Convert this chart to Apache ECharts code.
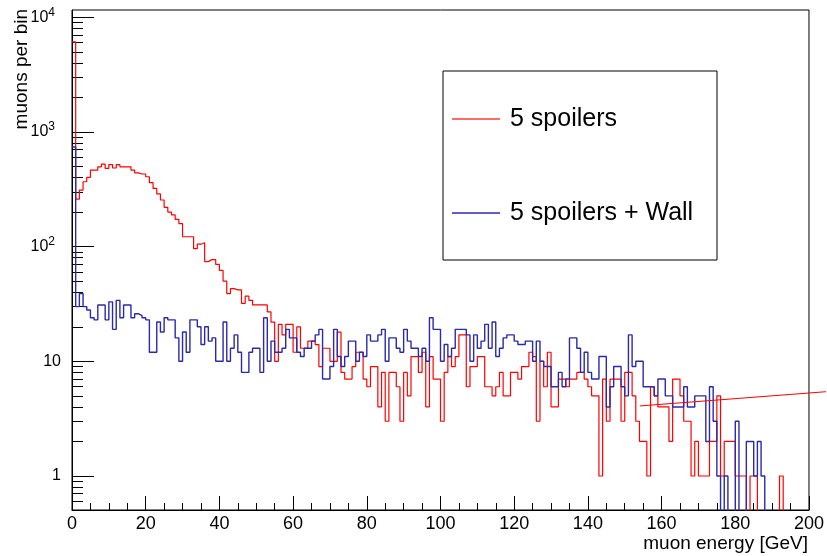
<!DOCTYPE html>
<html><head><meta charset="utf-8">
<script src="https://cdn.jsdelivr.net/npm/echarts@6/dist/echarts.min.js"></script>
<style>html,body{margin:0;padding:0;background:#fff}#c{width:827px;height:556px}</style>
</head><body><div id="c"></div>
<script>
// ---------- data ----------
const seriesNames = ['5 spoilers', '5 spoilers + Wall'];
const xTitle = 'muon energy [GeV]';
const yTitle = 'muons per bin';
const xMin = 0, xMax = 200, xTickStep = 20;
const yMin = 0.505, yMax = 11578;
const yTickValues = [1, 10, 100, 1000, 10000];
const yMinorTickValues = [0.6, 0.7, 0.8, 0.9, 2, 3, 4, 5, 6, 7, 8, 9, 20, 30, 40, 50, 60, 70, 80, 90,
  200, 300, 400, 500, 600, 700, 800, 900, 2000, 3000, 4000, 5000, 6000, 7000, 8000, 9000];
// bin contents, 1 GeV bins starting at 0 GeV
const spoilers = [
  6100, 260, 311, 368, 402, 465, 465, 497, 525, 482, 520, 485, 520, 497, 497, 497, 465, 440, 430, 430,
  407, 361, 322, 288, 255, 220, 200, 189, 173, 159, 122, 122, 122, 96, 105, 108, 74, 77, 77, 70,
  62, 50, 39, 43, 42, 42, 32, 37, 34, 31, 31, 31, 31, 27, 22, 10, 21, 17, 21, 21,
  12, 20, 13, 13, 15, 15, 14, 9, 13, 13, 10, 10, 18, 8, 7, 7, 9, 12, 12, 7,
  6, 9, 9, 4, 8, 3, 8, 8, 6, 3, 8, 5, 11, 11, 8, 12, 4, 11, 7, 7,
  3, 8, 11, 9, 11, 17, 17, 6, 9, 9, 11, 11, 6, 6, 5, 6, 8, 5, 5, 8,
  8, 7, 9, 9, 12, 11, 3, 10, 6, 12, 4, 4, 7, 7, 6, 7, 7, 8, 8, 7,
  6, 5, 5, 1, 7, 3, 7, 7, 7, 3, 8, 8, 5, 3, 2, 2, 1, 6, 5, 4,
  4, 4, 2, 7, 7, 5, 3, 3, 1, 2, 1, 1, 1, 2, 2, 5, 1, 2, 2, 2,
  1, 1, 1, 0, 1, 1, 0, 0, 0, 0, 0, 0, 1, 0, 0, 0, 0, 0, 0, 0
];
const spoilersWall = [
  740, 30, 39, 30, 28, 24, 23, 31, 31, 23, 33, 19, 34, 24, 31, 31, 24, 26, 25, 24,
  23, 12, 12, 22, 18, 24, 23, 23, 16, 10, 18, 12, 23, 23, 20, 14, 20, 15, 16, 10,
  10, 22, 10, 13, 17, 12, 8, 8, 12, 13, 13, 8, 24, 10, 15, 12, 12, 13, 19, 16,
  16, 12, 11, 13, 13, 15, 17, 19, 7, 7, 9, 19, 11, 9, 11, 15, 15, 10, 12, 11,
  17, 15, 15, 17, 19, 10, 16, 16, 13, 12, 19, 15, 13, 13, 11, 13, 10, 24, 19, 19,
  10, 14, 11, 13, 19, 19, 19, 17, 10, 17, 13, 15, 21, 13, 22, 11, 13, 16, 17, 17,
  15, 14, 14, 15, 15, 10, 15, 10, 9, 9, 6, 6, 8, 6, 7, 16, 16, 13, 8, 12,
  8, 7, 7, 11, 11, 4, 6, 9, 9, 6, 5, 17, 9, 10, 10, 6, 6, 6, 5, 7,
  7, 5, 5, 4, 4, 4, 6, 4, 4, 5, 5, 5, 2, 6, 3, 1, 0, 1, 0, 0,
  3, 0, 0, 2, 2, 1, 2, 1, 0, 0, 0, 0, 0, 0, 0, 0, 0, 0, 0, 0
];
// stray straight line drawn in the original (data coordinates)
const strayLineX = [154.1, 204.6];
const strayLineY = [4.08, 5.43];

// ---------- build ----------
const FONT = 'Liberation Sans, Arial, Helvetica, sans-serif';
const FLOOR = 0.1; // empty bins are drawn down to below the frame
function histPoints(vals) {
  const pts = vals.map((v, i) => [xMin + i, v > 0 ? v : FLOOR]);
  const last = vals[vals.length - 1];
  pts.push([xMin + vals.length, last > 0 ? last : FLOOR]);
  return pts;
}

const chart = echarts.init(document.getElementById('c'), null, {renderer: 'canvas'});
chart.setOption({
  animation: false,
  backgroundColor: '#fff',
  grid: {left: 72, right: 17, top: 10, bottom: 46, show: true, borderColor: '#000', borderWidth: 1, backgroundColor: 'transparent'},
  xAxis: {
    type: 'value', min: xMin, max: xMax, interval: xTickStep,
    axisLine: {show: true, onZero: false, lineStyle: {color: '#000', width: 1}},
    axisTick: {show: true, inside: true, length: 14, lineStyle: {color: '#000'}},
    minorTick: {show: true, splitNumber: 4, length: 7, lineStyle: {color: '#000'}},
    axisLabel: {color: '#000', fontSize: 18, fontFamily: FONT, margin: 5, showMinLabel: true, showMaxLabel: true},
    splitLine: {show: false}
  },
  yAxis: [{
    type: 'log', logBase: 10, min: yMin, max: yMax,
    axisLine: {show: true, onZero: false, lineStyle: {color: '#000', width: 1}},
    axisTick: {show: true, inside: true, length: 22, customValues: yTickValues, lineStyle: {color: '#000'}},
    axisLabel: {
      customValues: yTickValues, color: '#000', margin: 11, fontFamily: FONT,
      formatter: function (v) {
        const e = Math.round(Math.log10(v));
        if (e === 0) return '{n|1}';
        if (e === 1) return '{n|10}';
        return '{n|10}{s|' + e + '}';
      },
      rich: {
        n: {fontSize: 16, lineHeight: 22, fontFamily: FONT, color: '#000'},
        s: {fontSize: 12, lineHeight: 12, verticalAlign: 'top', fontFamily: FONT, color: '#000', padding: [0, 6, 0, 0]}
      }
    },
    splitLine: {show: false}
  }, {
    type: 'log', logBase: 10, min: yMin, max: yMax, position: 'left',
    axisLine: {show: false},
    axisTick: {show: true, inside: true, length: 11, customValues: yMinorTickValues, lineStyle: {color: '#000'}},
    axisLabel: {show: false},
    splitLine: {show: false}
  }],
  legend: {
    left: 443, top: 71, orient: 'vertical',
    itemWidth: 48, itemHeight: 2, icon: 'rect', itemGap: 66,
    padding: [34, 13, 33, 9],
    borderColor: '#000', borderWidth: 1, backgroundColor: '#fff',
    textStyle: {fontSize: 25, fontFamily: FONT, color: '#000', width: 194, lineHeight: 28, padding: [0, 0, 0, 5]},
    data: [
      {name: seriesNames[0], itemStyle: {color: '#ff6b6b'}},
      {name: seriesNames[1], itemStyle: {color: '#6060c0'}}
    ]
  },
  graphic: [
    {type: 'text', x: 808, y: 544, style: {text: xTitle, font: '19px ' + FONT, fill: '#000', align: 'right', verticalAlign: 'middle'}},
    {type: 'text', x: 22, y: 9, rotation: Math.PI / 2, style: {text: yTitle, font: '19px ' + FONT, fill: '#000', align: 'right', verticalAlign: 'middle'}}
  ],
  series: [
    {name: seriesNames[0], type: 'line', step: 'end', symbol: 'none', yAxisIndex: 0,
     data: histPoints(spoilers), lineStyle: {color: '#ff0000', width: 1.2}, itemStyle: {color: '#ff0000'}, clip: true, z: 3},
    {name: seriesNames[1], type: 'line', step: 'end', symbol: 'none', yAxisIndex: 0,
     data: histPoints(spoilersWall), lineStyle: {color: '#2a2aaa', width: 1.4}, itemStyle: {color: '#2a2aaa'}, clip: true, z: 4},
    {name: 'strayLine', type: 'custom', yAxisIndex: 0, clip: false, silent: true, z: 5,
     data: [[strayLineX[0], strayLineY[0], strayLineX[1], strayLineY[1]]],
     renderItem: function (params, api) {
       const p0 = api.coord([api.value(0), api.value(1)]);
       const p1 = api.coord([api.value(2), api.value(3)]);
       return {type: 'line', shape: {x1: p0[0], y1: p0[1], x2: p1[0], y2: p1[1]}, style: {stroke: '#ff0000', lineWidth: 1}};
     }}
  ]
});
</script>
</body></html>
